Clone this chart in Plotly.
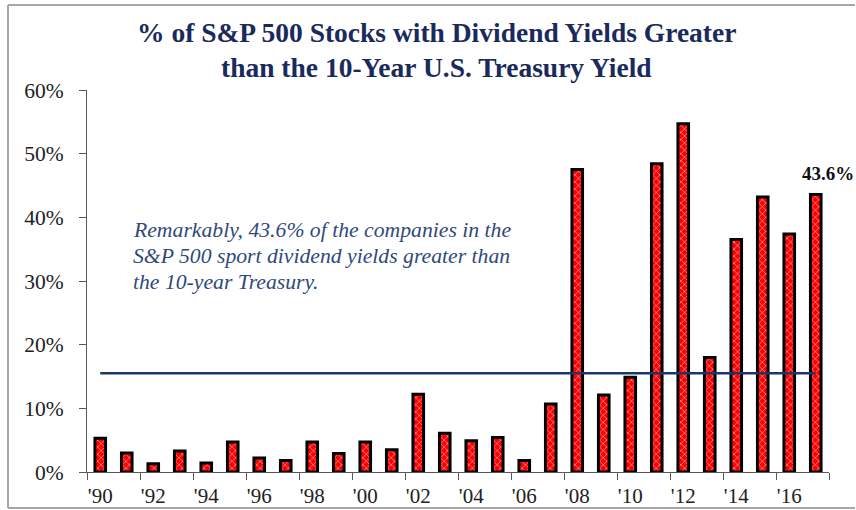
import plotly.graph_objects as go

years = list(range(1990, 2018))
pct_above = [5.3, 3.0, 1.3, 3.3, 1.4, 4.7, 2.2, 1.8, 4.7, 2.9, 4.7, 3.5,
             12.2, 6.1, 4.9, 5.4, 1.8, 10.7, 47.5, 12.1, 14.9, 48.4, 54.7,
             18.0, 36.5, 43.2, 37.4, 43.6]
avg_line = 15.5
year_labels = ["'" + str(y)[2:] for y in years[::2]]
y_ticks = [0, 10, 20, 30, 40, 50, 60]
y_tick_text = [f"{v}%" for v in y_ticks]

title_1 = "% of S&P 500 Stocks with Dividend Yields Greater"
title_2 = "than the 10-Year U.S. Treasury Yield"
note_lines = ["Remarkably, 43.6% of the companies in the",
              "S&P 500 sport dividend yields greater than",
              "the 10-year Treasury."]
last_label = "43.6%"

W, H = 856, 510
L, R, T, B = 87, 829, 90, 472

def px(x):
    return (x - L) / (R - L)

def py(y):
    return (B - y) / (B - T)

fig = go.Figure()
fig.add_trace(go.Bar(
    x=years, y=pct_above, width=0.4,
    marker=dict(color="#ff0000",
                line=dict(color="black", width=3),
                pattern=dict(shape="x", fgcolor="white", bgcolor="#ff0000",
                             size=5, solidity=0.3)),
    showlegend=False, hoverinfo="skip"))
fig.add_trace(go.Scatter(
    x=[years[0], years[-1]], y=[avg_line, avg_line], mode="lines",
    line=dict(color="#1f3468", width=2.5), showlegend=False, hoverinfo="skip"))

serif = "Liberation Serif"
fig.update_layout(
    width=W, height=H, autosize=False,
    margin=dict(l=L, r=W - R, t=T, b=H - B, autoexpand=False),
    paper_bgcolor="white", plot_bgcolor="white",
    font=dict(family=serif, color="#222222"),
    xaxis=dict(range=[years[0] - 0.5, years[-1] + 0.5], automargin=False,
               tickvals=years[::2], ticktext=year_labels,
               ticks="", showline=True, linecolor="#595959", linewidth=1,
               showgrid=False, zeroline=False,
               tickfont=dict(family=serif, size=21, color="#222222"),
               ticklabelstandoff=5,
               minor=dict(tickvals=[y - 0.5 for y in years[::2]] + [years[-1] + 0.5],
                          ticks="outside", ticklen=7, tickcolor="#595959",
                          tickwidth=1, showgrid=False)),
    yaxis=dict(range=[0, 60], tickvals=y_ticks, ticktext=y_tick_text,
               automargin=False,
               ticks="outside", ticklen=7, tickcolor="#595959",
               showline=True, linecolor="#595959", linewidth=1,
               showgrid=False, zeroline=False,
               tickfont=dict(family=serif, size=21.5, color="#222222"),
               ticklabelstandoff=11),
)

for text, ypos in [(title_1, 33), (title_2, 67)]:
    fig.add_annotation(xref="paper", yref="paper", x=px(436), y=py(ypos),
                       text=f"<b>{text}</b>", showarrow=False, xanchor="center",
                       yanchor="middle",
                       font=dict(family=serif, size=27.5, color="#1b2a5c"))
for i, line in enumerate(note_lines):
    fig.add_annotation(xref="paper", yref="paper", x=px(131), y=py(230 + 26 * i),
                       text=f"<i>{line}</i>", showarrow=False, xanchor="left",
                       yanchor="middle",
                       font=dict(family=serif, size=21.7, color="#2f4a7a"))
fig.add_annotation(xref="paper", yref="paper", x=px(828), y=py(173),
                   text=f"<b>{last_label}</b>", showarrow=False,
                   xanchor="center", yanchor="middle",
                   font=dict(family=serif, size=19, color="#111111"))

frame = dict(color="#a6a6a6", width=2)
fig.add_shape(type="line", xref="paper", yref="paper",
              x0=px(8), x1=px(8), y0=py(508), y1=py(5), line=frame, layer="below")
fig.add_shape(type="line", xref="paper", yref="paper",
              x0=px(8), x1=px(855), y0=py(5), y1=py(5), line=frame, layer="below")
fig.add_shape(type="line", xref="paper", yref="paper",
              x0=px(8), x1=px(855), y0=py(508), y1=py(508), line=frame, layer="below")

fig.write_html(
    "out.html",
    config={"displayModeBar": False},
    post_script=("document.body.style.margin='0px';"
                 "document.body.style.overflow='hidden';"
                 "document.documentElement.style.overflow='hidden';"))
